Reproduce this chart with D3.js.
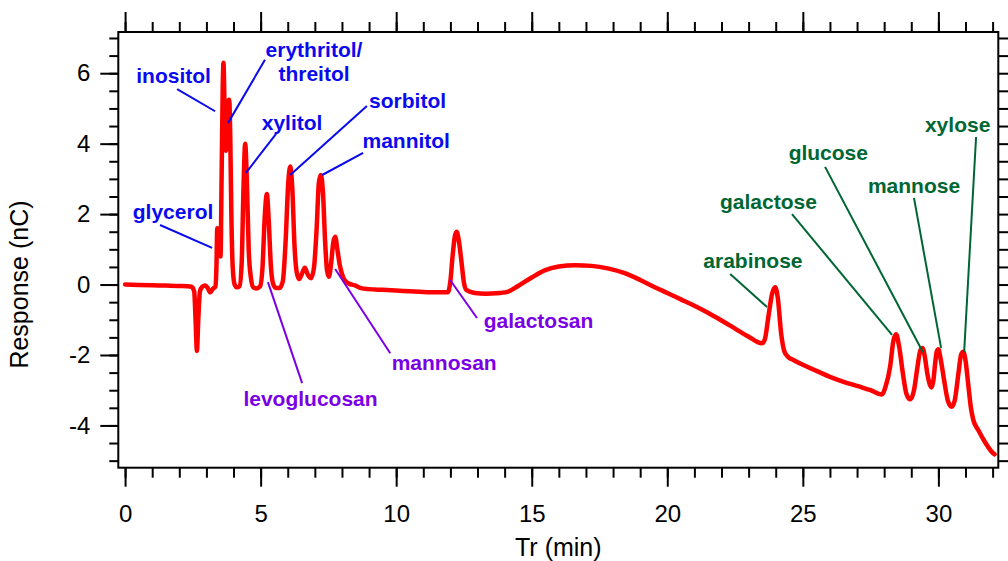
<!DOCTYPE html>
<html>
<head>
<meta charset="utf-8">
<script src="https://cdn.jsdelivr.net/npm/d3@7"></script>
<style>
  html, body { margin: 0; padding: 0; background: #fff; }
  svg { display: block; font-family: "Liberation Sans", Arial, sans-serif; }
</style>
</head>
<body>
<svg id="chart" width="1008" height="561"></svg>
<script>
// Retention time (min) of each trace sample
const timeMin = [
  0, 0.5, 1.0, 1.5, 2.0, 2.45, 2.55, 2.6, 2.65, 2.7, 2.76, 2.84, 2.95, 3.05, 3.14, 3.24, 3.33,
  3.37, 3.40, 3.44, 3.48, 3.52, 3.56, 3.60, 3.63, 3.67, 3.72, 3.76, 3.80, 3.84, 3.88, 3.92, 3.97,
  4.04, 4.12, 4.22, 4.30, 4.37, 4.43, 4.49, 4.56, 4.64, 4.73, 4.85, 4.98,
  5.07, 5.15, 5.23, 5.30, 5.38, 5.47, 5.58, 5.70, 5.82, 5.92, 6.02, 6.09, 6.17, 6.25, 6.33,
  6.42, 6.52, 6.63, 6.74, 6.86, 6.97, 7.06, 7.15, 7.22, 7.30, 7.38, 7.45, 7.52, 7.60, 7.68,
  7.75, 7.83, 7.92, 8.0, 8.1, 8.25, 8.5, 8.7, 9.0, 9.5, 10.0, 10.5, 11.0, 11.5, 11.9,
  12.0, 12.08, 12.16, 12.23, 12.3, 12.4, 12.5, 12.6, 12.9, 13.3, 13.7, 14.1, 14.5,
  15.0, 15.5, 16.0, 16.6, 17.2, 17.8, 18.4, 19.0, 19.5, 20.0, 20.5, 21.0, 21.5, 22.0, 22.5,
  23.0, 23.49, 23.6, 23.73, 23.87, 23.98, 24.08, 24.2, 24.32, 24.45, 24.65, 25.0, 25.5,
  26.0, 26.5, 27.1, 27.5, 27.91, 28.05, 28.22, 28.34, 28.44, 28.55, 28.69, 28.82, 28.96,
  29.1, 29.23, 29.33, 29.41, 29.5, 29.59, 29.75, 29.82, 29.88, 29.94, 30.0, 30.08, 30.21,
  30.35, 30.49, 30.6, 30.74, 30.84, 30.92, 31.0, 31.11, 31.2, 31.29, 31.47, 31.7, 31.97, 32.07
];

// Detector response (nC) at each retention time
const responseNC = [
  0, -0.01, -0.02, -0.03, -0.04, -0.06, -0.2, -1.0, -1.88, -1.0, -0.2, -0.07, -0.03, -0.1, -0.22, -0.12, -0.06,
  0.5, 1.6, 1.55, 0.85, 0.8, 3.0, 5.5, 6.3, 5.0, 3.8, 4.6, 5.2, 5.25, 4.2, 2.0, 0.5,
  0.0, -0.08, -0.05, 0.6, 2.8, 4.0, 3.0, 1.0, 0.2, -0.08, -0.11, -0.05,
  0.5, 1.9, 2.57, 1.8, 0.5, 0.0, -0.1, -0.1, 0.1, 1.2, 2.9, 3.35, 2.7, 1.1, 0.35,
  0.15, 0.3, 0.48, 0.28, 0.18, 0.5, 1.5, 2.9, 3.11, 2.6, 1.2, 0.4, 0.22, 0.6, 1.2,
  1.36, 1.0, 0.55, 0.3, 0.12, 0.03, -0.03, -0.1, -0.13, -0.15, -0.17, -0.19, -0.21, -0.22, -0.22,
  0.1, 0.8, 1.35, 1.5, 1.3, 0.7, 0.05, -0.16, -0.24, -0.26, -0.25, -0.21, -0.04,
  0.2, 0.41, 0.51, 0.55, 0.53, 0.46, 0.33, 0.13, -0.06, -0.24, -0.42, -0.6, -0.8, -1.02, -1.25,
  -1.48, -1.67, -1.55, -0.91, -0.25, -0.08, -0.4, -1.39, -1.9, -2.05, -2.14, -2.28, -2.45,
  -2.62, -2.76, -2.9, -3.0, -3.12, -2.9, -2.33, -1.6, -1.41, -1.75, -2.52, -3.1, -3.26,
  -3.0, -2.33, -1.88, -1.8, -2.05, -2.52, -2.92, -2.7, -2.24, -1.9, -1.84, -2.1, -2.71,
  -3.3, -3.47, -3.3, -2.52, -1.98, -1.91, -2.15, -2.9, -3.5, -3.85, -4.13, -4.45, -4.75, -4.82
];

// Axis tick values
const xMajorTicks = [0, 5, 10, 15, 20, 25, 30];
const xMinorTicks = d3.range(0, 33, 1);
const yMajorTicks = [-4, -2, 0, 2, 4, 6];
const yMinorTicks = d3.range(-5, 7.01, 0.5);

// Compound names, grouped by class
const compoundText = [
  ["inositol"], ["erythritol/", "threitol"], ["xylitol"], ["sorbitol"], ["mannitol"], ["glycerol"],
  ["levoglucosan"], ["mannosan"], ["galactosan"],
  ["arabinose"], ["galactose"], ["glucose"], ["mannose"], ["xylose"]
];
const compoundClass = [
  "polyol", "polyol", "polyol", "polyol", "polyol", "polyol",
  "anhydro", "anhydro", "anhydro",
  "sugar", "sugar", "sugar", "sugar", "sugar"
];

// Label anchors and leader lines, in (min, nC) units
const labelAt = [
  [1.79, 5.73], [6.97, 6.46], [6.16, 4.39], [10.42, 5.0], [10.37, 3.88], [1.77, 1.85],
  [6.84, -3.45], [11.77, -2.43], [15.25, -1.24],
  [23.16, 0.46], [23.73, 2.14], [25.94, 3.54], [29.10, 2.61], [30.71, 4.34]
];
const leaderFrom = [
  [1.92, 5.55], [5.16, 6.38], [5.57, 4.28], [8.92, 5.07], [8.78, 3.74], [1.29, 1.69],
  [5.27, 0.07], [7.75, 0.44], [11.99, 0.13],
  [22.32, 0.30], [24.60, 2.00], [25.82, 3.34], [29.10, 2.46], [31.39, 4.19]
];
const leaderTo = [
  [3.32, 4.92], [3.80, 4.59], [4.46, 3.17], [6.09, 3.11], [7.27, 3.11], [3.21, 1.04],
  [6.53, -2.80], [9.78, -1.95], [12.98, -0.95],
  [23.68, -0.64], [28.29, -1.43], [29.43, -1.92], [30.10, -1.80], [30.95, -1.92]
];

const classColor = { polyol: "#0a0aee", anhydro: "#7a00e6", sugar: "#006633" };

const svg = d3.select("#chart");
const plot = { left: 118.3, right: 998.3, top: 32, bottom: 467.7 };

const x = d3.scaleLinear().domain([-0.25, 32.21]).range([plot.left, plot.right]);
const y = d3.scaleLinear().domain([-5.2, 7.17]).range([plot.bottom, plot.top]);

const tickFont = "24px";
const plainNumber = d => String(d);

function styleAxis(g) {
  g.select(".domain").remove();
  g.selectAll("line").attr("stroke", "#000").attr("stroke-width", 2);
  g.selectAll("text").attr("fill", "#000").style("font-size", tickFont)
    .style("font-family", "'Liberation Sans', Arial, sans-serif");
}

// Bottom axis: minor then major ticks with labels
svg.append("g").attr("transform", `translate(0,${plot.bottom})`)
  .call(d3.axisBottom(x).tickValues(xMinorTicks).tickSize(10).tickSizeOuter(0).tickFormat(""))
  .call(styleAxis);
svg.append("g").attr("transform", `translate(0,${plot.bottom})`)
  .call(d3.axisBottom(x).tickValues(xMajorTicks).tickSize(19).tickSizeOuter(0).tickPadding(18).tickFormat(plainNumber))
  .call(styleAxis);

// Top axis mirrors bottom ticks
svg.append("g").attr("transform", `translate(0,${plot.top})`)
  .call(d3.axisTop(x).tickValues(xMinorTicks).tickSize(10).tickSizeOuter(0).tickFormat(""))
  .call(styleAxis);
svg.append("g").attr("transform", `translate(0,${plot.top})`)
  .call(d3.axisTop(x).tickValues(xMajorTicks).tickSize(20).tickSizeOuter(0).tickFormat(""))
  .call(styleAxis);

// Left axis
svg.append("g").attr("transform", `translate(${plot.left},0)`)
  .call(d3.axisLeft(y).tickValues(yMinorTicks).tickSize(9).tickSizeOuter(0).tickFormat(""))
  .call(styleAxis);
svg.append("g").attr("transform", `translate(${plot.left},0)`)
  .call(d3.axisLeft(y).tickValues(yMajorTicks).tickSize(18).tickSizeOuter(0).tickPadding(10).tickFormat(plainNumber))
  .call(styleAxis);

// Right axis: uniform ticks
svg.append("g").attr("transform", `translate(${plot.right},0)`)
  .call(d3.axisRight(y).tickValues(yMinorTicks).tickSize(10).tickSizeOuter(0).tickFormat(""))
  .call(styleAxis);

// Plot frame
svg.append("rect")
  .attr("x", plot.left).attr("y", plot.top)
  .attr("width", plot.right - plot.left).attr("height", plot.bottom - plot.top)
  .attr("fill", "none").attr("stroke", "#000").attr("stroke-width", 2);

// Axis titles
svg.append("text")
  .attr("x", (plot.left + plot.right) / 2).attr("y", 556)
  .attr("text-anchor", "middle").style("font-size", "25px").text("Tr (min)");
svg.append("text")
  .attr("transform", `translate(28,${y(0)}) rotate(-90)`)
  .attr("text-anchor", "middle").style("font-size", "25px").text("Response (nC)");

// Chromatogram trace
const trace = timeMin.map((t, i) => [t, responseNC[i]]);
const line = d3.line().x(d => x(d[0])).y(d => y(d[1])).curve(d3.curveMonotoneX);
svg.append("path")
  .datum(trace)
  .attr("d", line)
  .attr("fill", "none")
  .attr("stroke", "#ff0000")
  .attr("stroke-width", 4.5)
  .attr("stroke-linejoin", "round")
  .attr("stroke-linecap", "round");

// Peak labels with leader lines
const ann = svg.append("g");
compoundText.forEach((lines, i) => {
  const col = classColor[compoundClass[i]];
  ann.append("line")
    .attr("x1", x(leaderFrom[i][0])).attr("y1", y(leaderFrom[i][1]))
    .attr("x2", x(leaderTo[i][0])).attr("y2", y(leaderTo[i][1]))
    .attr("stroke", col).attr("stroke-width", 2);
  const t = ann.append("text")
    .attr("x", x(labelAt[i][0])).attr("y", y(labelAt[i][1]))
    .attr("text-anchor", "middle")
    .attr("fill", col)
    .style("font-size", "21px").style("font-weight", "bold");
  lines.forEach((s, k) => {
    t.append("tspan").attr("x", x(labelAt[i][0])).attr("dy", k === 0 ? 0 : 24).text(s);
  });
});
</script>
</body>
</html>
